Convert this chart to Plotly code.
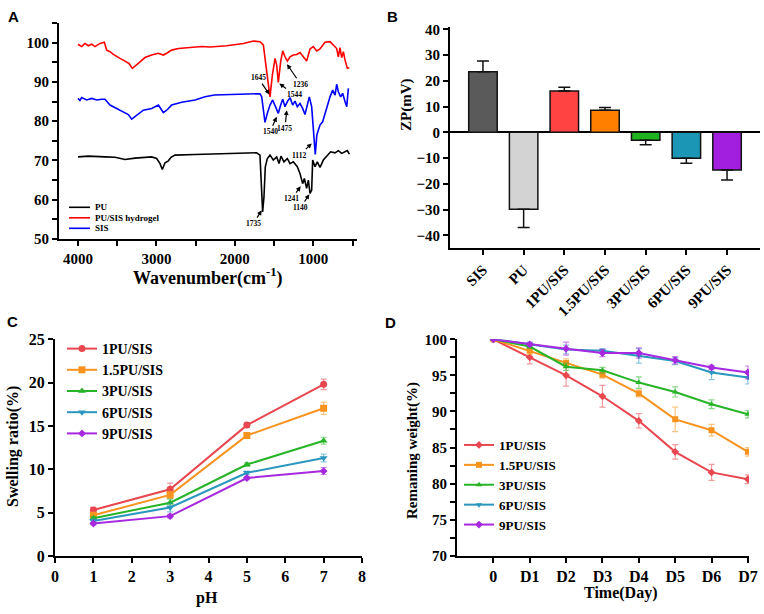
import plotly.graph_objects as go

W, H = 764, 614
SERIF = "Liberation Serif"
SANS = "Liberation Sans"

# ---------------- Panel A: FTIR ----------------
pu_x = [4000, 3868, 3656, 3528, 3400, 3273, 3061, 2997, 2954, 2925, 2890, 2848, 2814, 2763, 2508, 2262,
        1892, 1722, 1680, 1658, 1646, 1629, 1612, 1586, 1552, 1510, 1467, 1437, 1412, 1374, 1331, 1297,
        1255, 1204, 1170, 1136, 1114, 1085, 1063, 1042, 1021, 1008, 978, 949, 915, 872, 821, 779, 723,
        681, 638, 596, 566, 541]
pu_y = [70.9, 71.1, 70.9, 70.8, 70.25, 70.6, 70.9, 70.5, 69.2, 67.7, 69.4, 69.9, 70.8, 71.35, 71.5, 71.7,
        71.95, 71.95, 71.35, 62.4, 56.9, 60.7, 68.4, 70.5, 71.35, 70.1, 70.9, 69.2, 71.1, 69.65, 70.5, 69.2,
        69.65, 68.4, 66.7, 64.1, 65.4, 62.9, 65.0, 61.6, 62.4, 70.1, 68.4, 69.65, 68.2, 70.1, 71.35, 72.2, 71.95,
        72.5, 71.8, 72.2, 72.5, 71.6]

gel_x = [4000, 3953, 3911, 3868, 3826, 3783, 3719, 3664, 3634, 3592, 3549, 3507, 3464, 3400, 3350, 3307,
         3252, 3197, 3146, 3061, 2975, 2912, 2869, 2806, 2720, 2593, 2423, 2317, 2104, 1892, 1764, 1680,
         1637, 1594, 1552, 1522, 1488, 1467, 1446, 1416, 1390, 1361, 1331, 1297, 1255, 1212, 1170, 1127,
         1085, 1042, 1000, 957, 915, 851, 787, 736, 702, 681, 660, 638, 617, 596, 566, 541]
gel_y = [99.6, 99.0, 99.8, 99.2, 99.6, 99.0, 99.8, 100.1, 98.1, 97.7, 97.0, 96.4, 96.0, 95.3, 94.7, 93.45,
         94.3, 95.3, 96.2, 96.85, 97.3, 96.85, 97.3, 98.1, 98.5, 98.7, 99.0, 98.9, 99.2, 99.8, 100.4, 100.25,
         99.4, 92.6, 86.2, 91.75, 96.0, 94.3, 89.9, 95.15, 97.9, 96.4, 95.3, 96.4, 96.85, 97.0, 97.5, 96.4,
         95.3, 98.4, 99.0, 97.9, 98.4, 100.1, 100.25, 99.2, 98.5, 96.4, 98.7, 96.2, 97.7, 95.6, 93.45, 93.6]

sis_x = [4000, 3975, 3953, 3889, 3826, 3762, 3698, 3656, 3592, 3507, 3422, 3358, 3315, 3252, 3167, 3061,
         2975, 2912, 2869, 2806, 2678, 2508, 2380, 2262, 1977, 1760, 1680, 1658, 1637, 1616, 1586, 1552,
         1518, 1480, 1446, 1416, 1390, 1361, 1331, 1297, 1263, 1233, 1204, 1170, 1136, 1106, 1076, 1051,
         1021, 991, 975, 955, 915, 881, 851, 821, 787, 753, 723, 702, 681, 651, 626, 596, 574, 553]
sis_y = [85.8, 85.3, 86.0, 85.4, 85.8, 85.4, 85.6, 85.6, 84.1, 83.25, 82.2, 81.7, 80.5, 81.55, 82.8, 83.25,
         84.1, 82.2, 82.8, 84.1, 84.8, 85.4, 86.2, 86.65, 86.8, 87.1, 87.0, 86.2, 82.4, 79.7, 82.0, 84.1,
         85.4, 83.4, 82.0, 84.1, 85.6, 83.7, 85.0, 86.0, 84.1, 85.1, 83.7, 84.5, 83.25, 81.7, 84.1, 86.2,
         83.7, 76.5, 71.5, 76.5, 79.0, 79.85, 82.0, 84.1, 86.2, 87.9, 86.65, 89.4, 87.5, 86.2, 87.1, 85.0, 83.7, 88.35]

ftir_names = ["PU", "PU/SIS hydrogel", "SIS"]
ftir_colors = ["#000000", "#FF0000", "#0000FF"]

# peak labels: text, tip (x, y), label centre (x, y)
peak_text = ["1645", "1544", "1236", "1540", "1475", "1112", "1241", "1140", "1735"]
peak_tip_x = [1560, 1433, 1335, 1467, 1339, 1020, 1161, 1051, 1658]
peak_tip_y = [86.8, 89.6, 94.5, 81.1, 82.8, 74.3, 63.4, 61.4, 57.3]
peak_lab_x = [1705, 1246, 1161, 1552, 1361, 1178, 1275, 1161, 1765]
peak_lab_y = [91.1, 86.8, 89.4, 77.3, 78.2, 71.35, 60.3, 58.0, 53.9]

# ---------------- Panel B: zeta potential ----------------
zp_cats = ["SIS", "PU", "1PU/SIS", "1.5PU/SIS", "3PU/SIS", "6PU/SIS", "9PU/SIS"]
zp_vals = [23.5, -29.9, 16.0, 8.6, -3.1, -10.1, -14.6]
zp_err = [4.2, 7.1, 1.5, 1.0, 1.7, 1.9, 3.9]
zp_colors = ["#5A5A5A", "#D3D3D3", "#FF4242", "#FF8000", "#1FB31F", "#1B96B5", "#A21FE0"]

# ---------------- Panel C: swelling ----------------
ph = [1, 3, 5, 7]
series_names = ["1PU/SIS", "1.5PU/SIS", "3PU/SIS", "6PU/SIS", "9PU/SIS"]
sw_vals = [[5.3, 7.7, 15.1, 19.8],
           [4.7, 7.05, 13.9, 17.05],
           [4.35, 6.15, 10.55, 13.3],
           [4.05, 5.6, 9.6, 11.3],
           [3.75, 4.6, 9.0, 9.8]]
sw_err = [[0.3, 0.7, 0.25, 0.6],
          [0.25, 0.4, 0.2, 0.7],
          [0.2, 0.4, 0.2, 0.4],
          [0.2, 0.5, 0.2, 0.45],
          [0.15, 0.2, 0.2, 0.4]]

# ---------------- Panel D: degradation ----------------
days = ["0", "D1", "D2", "D3", "D4", "D5", "D6", "D7"]
rw_vals = [[100, 97.5, 95.0, 92.1, 88.7, 84.4, 81.55, 80.6],
           [100, 98.4, 96.7, 95.1, 92.5, 88.9, 87.4, 84.4],
           [100, 99.0, 96.2, 95.7, 94.0, 92.7, 91.0, 89.6],
           [100, 99.3, 98.6, 98.4, 97.7, 97.0, 95.4, 94.7],
           [100, 99.3, 98.7, 98.1, 98.1, 97.1, 96.1, 95.4]]
rw_err = [[0, 0.9, 1.5, 1.5, 1.0, 1.0, 1.1, 0.6],
          [0, 0.5, 0.6, 0.5, 0.5, 1.7, 0.8, 0.6],
          [0, 0.3, 0.5, 0.4, 0.8, 0.7, 0.6, 0.5],
          [0, 0.3, 0.6, 0.3, 1.0, 0.5, 1.0, 0.9],
          [0, 0.2, 0.9, 0.5, 0.7, 0.5, 0.3, 0.9]]

line_colors = ["#E8474F", "#F7931E", "#27B427", "#2B97BE", "#A629E0"]
err_colors = ["rgba(232,71,79,0.55)", "rgba(247,147,30,0.55)", "rgba(39,180,39,0.55)",
              "rgba(43,151,190,0.55)", "rgba(166,41,224,0.55)"]
sym_c = ["circle", "square", "triangle-up", "triangle-down", "diamond"]
sym_d = ["diamond", "square", "triangle-up", "triangle-down", "diamond"]


def px(x):
    return x / W


def py(y):
    return 1 - y / H


def bfont(size, family=SERIF):
    return dict(family=family, size=size, color="black", weight="bold")


fig = go.Figure()

# Panel A traces
for xs, ys, nm, col in zip([pu_x, gel_x, sis_x], [pu_y, gel_y, sis_y], ftir_names, ftir_colors):
    fig.add_trace(go.Scatter(x=xs, y=ys, mode="lines", name=nm, line=dict(color=col, width=1.6),
                             xaxis="x", yaxis="y", showlegend=False))

# Panel B
fig.add_trace(go.Bar(
    x=zp_cats, y=zp_vals, width=0.7, showlegend=False,
    marker=dict(color=zp_colors, line=dict(color="#111111", width=1.5)),
    error_y=dict(type="data", symmetric=False,
                 array=[e if v > 0 else 0 for v, e in zip(zp_vals, zp_err)],
                 arrayminus=[e if v < 0 else 0 for v, e in zip(zp_vals, zp_err)],
                 color="#111111", thickness=1.5, width=6),
    xaxis="x2", yaxis="y2"))

# Panel C
for i, name in enumerate(series_names):
    fig.add_trace(go.Scatter(
        x=ph, y=sw_vals[i], mode="lines+markers", name=name,
        line=dict(color=line_colors[i], width=2),
        marker=dict(symbol=sym_c[i], size=7 if i != 4 else 6, color=line_colors[i]),
        error_y=dict(type="data", array=sw_err[i], color=err_colors[i], thickness=1.2, width=3),
        xaxis="x3", yaxis="y3", legend="legend"))

# Panel D
for i, name in enumerate(series_names):
    fig.add_trace(go.Scatter(
        x=days, y=rw_vals[i], mode="lines+markers", name=name,
        line=dict(color=line_colors[i], width=2),
        marker=dict(symbol=sym_d[i], size=6, color=line_colors[i]),
        error_y=dict(type="data", array=rw_err[i], color=err_colors[i], thickness=1.2, width=3),
        xaxis="x4", yaxis="y4", legend="legend2"))

axis_common = dict(showline=True, linecolor="black", linewidth=2, ticks="outside", ticklen=5,
                   tickwidth=2, tickcolor="black", showgrid=False, zeroline=False, automargin=False,
                   tickfont=bfont(15))

layout = dict(
    width=W, height=H, margin=dict(l=0, r=0, t=0, b=0, pad=0, autoexpand=False),
    paper_bgcolor="white", plot_bgcolor="white",
    xaxis=dict(axis_common, domain=[px(59), px(357)], range=[4242, 443], anchor="y",
               tick0=0, dtick=1000, minor=dict(dtick=500, ticklen=5, tickwidth=2, tickcolor="black")),
    yaxis=dict(axis_common, domain=[py(239), py(23)], range=[50, 105], anchor="x",
               tick0=50, dtick=10, minor=dict(dtick=5, ticklen=5, tickwidth=2, tickcolor="black")),
    xaxis2=dict(axis_common, domain=[px(450), px(760)], range=[-0.81, 6.81], anchor="y2",
                tickangle=-45, type="category"),
    yaxis2=dict(axis_common, domain=[py(248.2), py(26.7)], range=[-45, 41], anchor="x2",
                tick0=0, dtick=10, zeroline=True, zerolinecolor="black", zerolinewidth=2),
    xaxis3=dict(axis_common, domain=[px(55), px(362)], range=[0, 8], anchor="y3", dtick=1,
                tickfont=bfont(16)),
    yaxis3=dict(axis_common, domain=[py(556), py(339.3)], range=[0, 25], anchor="x3", dtick=5,
                tickfont=bfont(16)),
    xaxis4=dict(axis_common, domain=[px(457), px(749)], range=[-1, 7.03], anchor="y4", type="category",
                tickfont=bfont(16)),
    yaxis4=dict(axis_common, domain=[py(555.7), py(339.3)], range=[70, 100], anchor="x4", dtick=5,
                minor=dict(dtick=2.5, ticklen=5, tickwidth=2, tickcolor="black")),
    legend=dict(x=px(62), y=py(333), xanchor="left", yanchor="top", bgcolor="rgba(0,0,0,0)",
                font=bfont(14), tracegroupgap=0),
    legend2=dict(x=px(459), y=py(430), xanchor="left", yanchor="top", bgcolor="rgba(0,0,0,0)",
                 font=bfont(13), tracegroupgap=0),
    showlegend=True,
)
fig.update_layout(**layout)

ann = []
shapes = []
# panel letters
for letter, (lx, ly) in zip("ABCD", [(14, 16), (392, 16), (12, 321), (390, 322)]):
    ann.append(dict(text=letter, x=px(lx), y=py(ly), xref="paper", yref="paper", showarrow=False,
                    xanchor="center", yanchor="middle", font=bfont(15, SANS)))


def title(text, x, y, size, angle=0):
    ann.append(dict(text=text, x=px(x), y=py(y), xref="paper", yref="paper", showarrow=False,
                    xanchor="center", yanchor="middle", textangle=angle, font=bfont(size)))


title("Wavenumber(cm<sup>-1</sup>)", 207, 277, 18)
title("ZP(mV)", 407, 105, 15, -90)
title("Swelling ratio(%)", 13, 447, 16, -90)
title("pH", 207, 598, 16)
title("Remaning weight(%)", 412, 450, 15, -90)
title("Time(Day)", 620, 593, 16)

# manual legend for panel A
for i, (nm, col) in enumerate(zip(ftir_names, ftir_colors)):
    yy = 207.3 + i * 10.5
    shapes.append(dict(type="line", xref="paper", yref="paper", x0=px(69), x1=px(90), y0=py(yy), y1=py(yy),
                       line=dict(color=col, width=1.6)))
    ann.append(dict(text=nm, x=px(92.5), y=py(yy), xref="paper", yref="paper", showarrow=False,
                    xanchor="left", yanchor="middle", font=bfont(9)))

# FTIR peak labels
for t, tx, ty, lx, ly in zip(peak_text, peak_tip_x, peak_tip_y, peak_lab_x, peak_lab_y):
    ann.append(dict(text=t, x=tx, y=ty, xref="x", yref="y", ax=lx, ay=ly, axref="x", ayref="y",
                    showarrow=True, arrowhead=2, arrowsize=0.8, arrowwidth=1.2, arrowcolor="black",
                    font=bfont(7.5)))
fig.update_layout(annotations=ann, shapes=shapes)

fig.write_html("out.html", config={"displayModeBar": False},
               post_script="document.body.style.margin='0px';document.body.style.overflow='hidden';")
